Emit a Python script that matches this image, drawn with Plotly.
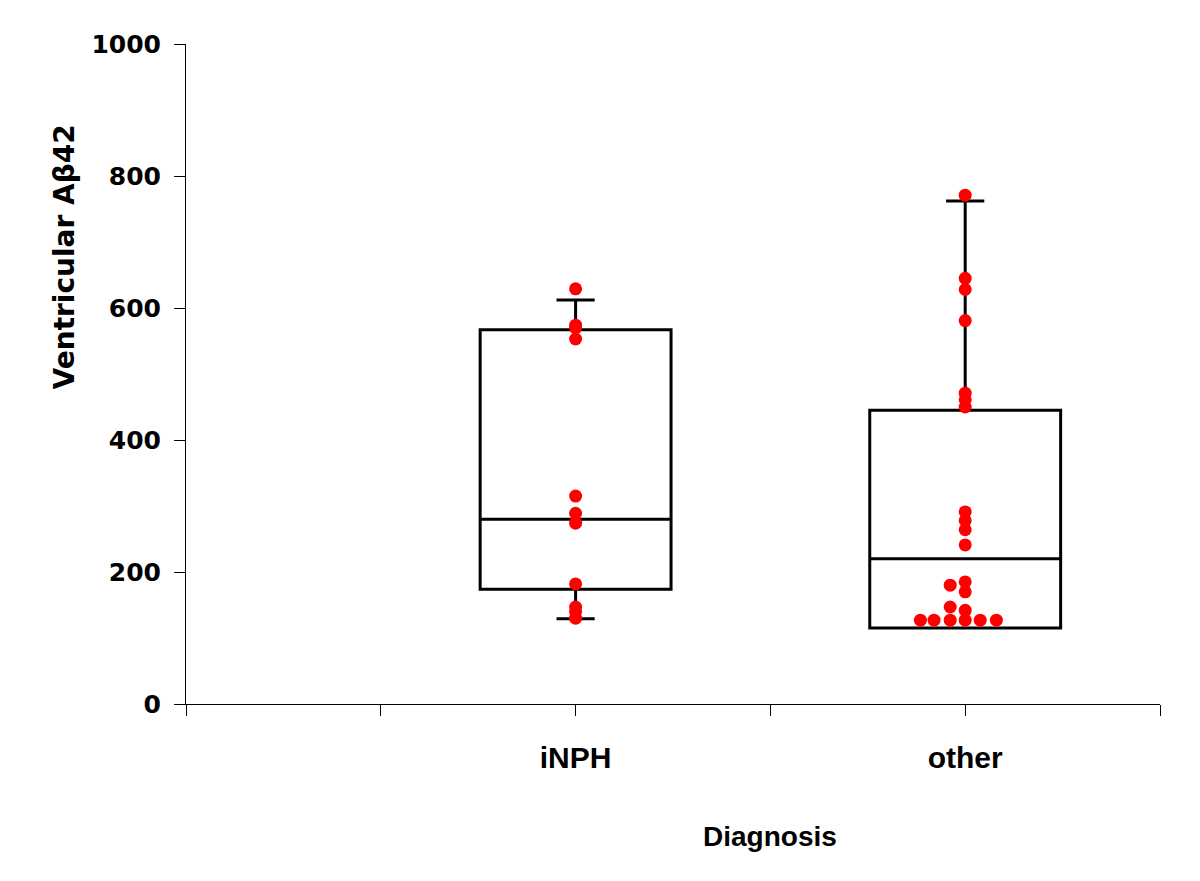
import plotly.graph_objects as go

# ---- data ----
categories = ["iNPH", "other"]
cat_pos = [2, 4]
x_tick_vals = [0, 1, 2, 3, 4, 5]
x_tick_text = ["", "", "iNPH", "", "other", ""]

# box summaries: q1, median, q3, lower whisker, upper whisker
q1 = [174, 115]
median = [280, 220]
q3 = [567, 445]
lower_whisker = [129, 115]
upper_whisker = [612, 762]

# individual observations
inph_values = [629, 574, 570, 553, 315, 289, 274, 182, 147, 140, 130]
inph_jitter = [0, 0, 0, 0, 0, 0, 0, 0, 0, 0, 0]

other_values = [771, 645, 628, 581, 471, 461, 450, 291, 278, 264, 241,
                185, 170, 142, 127,
                180, 147, 127,
                127, 127, 127, 127]
other_jitter = [0, 0, 0, 0, 0, 0, 0, 0, 0, 0, 0,
                0, 0, 0, 0,
                -0.077, -0.077, -0.077,
                -0.16, -0.23, 0.077, 0.16]

y_ticks = [0, 200, 400, 600, 800, 1000]

fig = go.Figure()

for i, name in enumerate(categories):
    fig.add_trace(go.Box(
        x=[cat_pos[i]], q1=[q1[i]], median=[median[i]], q3=[q3[i]],
        lowerfence=[lower_whisker[i]], upperfence=[upper_whisker[i]],
        width=0.98, whiskerwidth=0.2,
        line=dict(color="black", width=3), fillcolor="white",
        boxpoints=False, name=name, showlegend=False, hoverinfo="skip",
    ))

fig.add_trace(go.Scatter(
    x=[cat_pos[0] + j for j in inph_jitter], y=inph_values, mode="markers",
    marker=dict(color="#ff0000", size=13, line=dict(width=0)),
    showlegend=False, hoverinfo="skip", cliponaxis=False,
))
fig.add_trace(go.Scatter(
    x=[cat_pos[1] + j for j in other_jitter], y=other_values, mode="markers",
    marker=dict(color="#ff0000", size=13, line=dict(width=0)),
    showlegend=False, hoverinfo="skip", cliponaxis=False,
))

fig.update_layout(
    width=1200, height=881,
    margin=dict(l=178, r=48, t=36, b=185),
    paper_bgcolor="white", plot_bgcolor="white",
    showlegend=False,
    xaxis=dict(
        range=[0, 5], tickmode="array", tickvals=x_tick_vals, ticktext=x_tick_text,
        showgrid=False, zeroline=False, showline=True, linecolor="black", linewidth=1,
        ticks="outside", ticklen=11, tickcolor="black", tickwidth=1,
        ticklabelstandoff=16,
        tickfont=dict(family="Liberation Sans", size=30, color="black", weight="bold"),
    ),
    yaxis=dict(
        range=[0, 1000], tickmode="array", tickvals=y_ticks,
        showgrid=False, zeroline=False, showline=True, linecolor="black", linewidth=1,
        ticks="outside", ticklen=11, tickcolor="black", tickwidth=1,
        ticklabelstandoff=8,
        tickfont=dict(family="DejaVu Sans", size=25, color="black", weight="bold"),
    ),
    annotations=[
        dict(text="Diagnosis", x=3, xref="x", y=-0.2, yref="paper",
             xanchor="center", yanchor="middle", showarrow=False,
             font=dict(family="Liberation Sans", size=28, color="black", weight="bold")),
        dict(text="Ventricular A\u03b242", x=-0.125, xref="paper", y=0.677, yref="paper",
             xanchor="center", yanchor="middle", showarrow=False, textangle=-90,
             font=dict(family="DejaVu Sans", size=28, color="black", weight="bold")),
    ],
)

fig.write_html("out.html")
